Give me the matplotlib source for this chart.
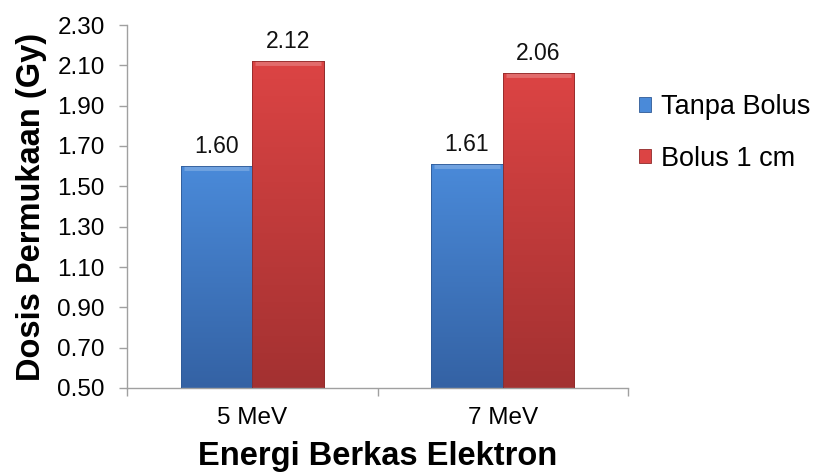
import numpy as np
import matplotlib
matplotlib.use("Agg")
import matplotlib.pyplot as plt
from matplotlib.colors import LinearSegmentedColormap

categories = ["5 MeV", "7 MeV"]
series_names = ["Tanpa Bolus", "Bolus 1 cm"]
tanpa_bolus = [1.60, 1.61]
bolus_1cm = [2.12, 2.06]
yticks = [0.50, 0.70, 0.90, 1.10, 1.30, 1.50, 1.70, 1.90, 2.10, 2.30]

plt.rcParams['font.family'] = ['Liberation Sans', 'DejaVu Sans']

fig = plt.figure(figsize=(8.22, 4.72), dpi=100)
ax = fig.add_axes([127/822, 1-388/472, (628-127)/822, (388-25)/472])

x = np.arange(len(categories))
w = 0.286
blue_top, blue_bot = "#4a8ad9", "#3462a4"
red_top, red_bot = "#dc4444", "#a33131"
cmaps = [LinearSegmentedColormap.from_list("b", [blue_bot, blue_top]),
         LinearSegmentedColormap.from_list("r", [red_bot, red_top])]
edge = ["#2f5a96", "#8f2a2a"]

base = yticks[0]
grad = np.linspace(0, 1, 256).reshape(-1, 1)
for i, (vals, name) in enumerate(zip([tanpa_bolus, bolus_1cm], series_names)):
    bars = ax.bar(x + (i - 0.5) * w, np.array(vals) - base, w, bottom=base,
                  color=[blue_top, red_top][i], edgecolor=edge[i], linewidth=0.6,
                  label=name, zorder=2)
    for p, v in zip(bars.patches, vals):
        x0, x1 = p.get_x(), p.get_x() + p.get_width()
        ax.imshow(grad, extent=[x0, x1, base, v], origin='lower', aspect='auto',
                  cmap=cmaps[i], zorder=2.5, interpolation='bicubic')
        ax.plot([x0 + 0.012, x1 - 0.012], [v - 0.01, v - 0.01], color='white',
                alpha=0.22, lw=3.5, zorder=3, solid_capstyle='butt')
        ax.plot([x0, x0, x1, x1, x0], [base, v, v, base, base], color=edge[i],
                lw=0.6, zorder=3.2)
        ax.annotate(f"{v:.2f}", (p.get_x() + p.get_width() / 2, v),
                    xytext=(0, 6), textcoords='offset points',
                    ha='center', va='bottom', fontsize=16.5, color='#111111')

ax.set_xlim(-0.5, len(categories) - 0.5)
ax.set_ylim(yticks[0], yticks[-1])
ax.set_yticks(yticks)
ax.set_yticklabels([f"{t:.2f}" for t in yticks])
ax.set_xticks(x)
ax.set_xticklabels(categories)
ax.set_xticks(np.arange(len(categories) + 1) - 0.5, minor=True)

for s in ['top', 'right']:
    ax.spines[s].set_visible(False)
for s in ['left', 'bottom']:
    ax.spines[s].set_color('#a0a0a0')
    ax.spines[s].set_linewidth(1.0)

ax.tick_params(axis='y', which='major', length=6, width=1.0, color='#a0a0a0',
               labelsize=17.5, pad=10, direction='out')
ax.tick_params(axis='x', which='major', length=0, labelsize=17.5, pad=14)
ax.tick_params(axis='x', which='minor', length=6, width=1.0, color='#a0a0a0', direction='out')

ax.set_ylabel("Dosis Permukaan (Gy)", fontsize=23.5, fontweight='bold')
ax.yaxis.set_label_coords(-0.19, 0.5)
ax.yaxis.label.set_va('center')
ax.set_xlabel("Energi Berkas Elektron", fontsize=23.5, fontweight='bold')
ax.xaxis.set_label_coords(0.5, -0.211)
ax.xaxis.label.set_va('baseline')

leg = ax.legend(loc='upper left', bbox_to_anchor=(639/822, 1-94/472),
                bbox_transform=fig.transFigure, frameon=False,
                fontsize=19.5, handlelength=0.45, handleheight=0.45,
                handletextpad=0.35, labelspacing=0.95, borderpad=0, borderaxespad=0)

fig.savefig("out.png", dpi=100)
